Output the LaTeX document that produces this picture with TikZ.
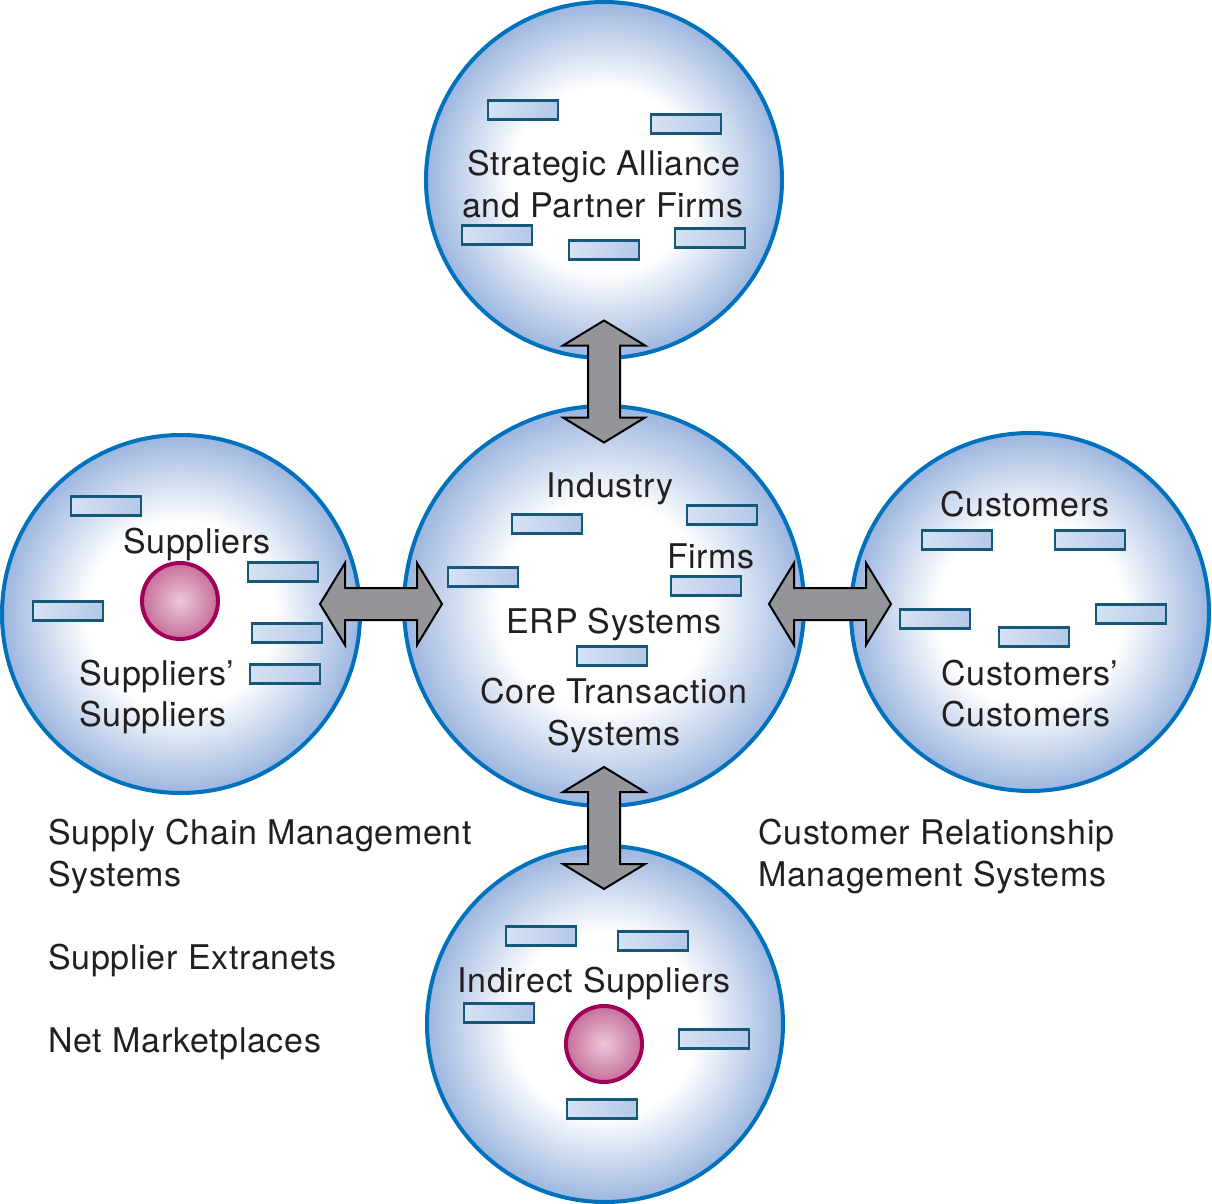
\documentclass[tikz,border=0pt]{standalone}
\usepackage{fontspec}
\setmainfont{TeX Gyre Heros}[LetterSpace=2]
\definecolor{ringblue}{RGB}{0,113,188}
\definecolor{edgeblue}{RGB}{140,170,218}
\definecolor{boxedge}{RGB}{22,88,120}
\definecolor{boxlight}{RGB}{214,226,244}
\definecolor{boxdark}{RGB}{180,200,232}
\definecolor{pinkedge}{RGB}{160,0,90}
\definecolor{pinkin}{RGB}{236,200,218}
\definecolor{pinkout}{RGB}{196,104,150}
\definecolor{arrgray}{RGB}{147,149,152}
\definecolor{txt}{RGB}{35,31,32}
\pgfdeclareradialshading{ballblue}{\pgfpoint{0bp}{0bp}}{color(0bp)=(white); color(13bp)=(white); color(27bp)=(edgeblue); color(100bp)=(edgeblue)}
\pgfdeclareradialshading{ballpink}{\pgfpoint{0bp}{0bp}}{color(0bp)=(pinkin); color(27bp)=(pinkout); color(100bp)=(pinkout)}
\begin{document}
\begin{tikzpicture}[x=0.5pt,y=-0.5pt,
  bigc/.style={circle, draw=ringblue, line width=2pt, shade, shading=ballblue, minimum size=#1, inner sep=0},
  sbox/.style={rectangle, draw=boxedge, line width=1.1pt, left color=boxlight, right color=boxdark, minimum width=35pt, minimum height=9.5pt, inner sep=0},
  pinkc/.style={circle, draw=pinkedge, line width=2pt, shade, shading=ballpink, minimum size=38pt, inner sep=0},
  lbl/.style={text=txt, font=\fontsize{17}{20}\selectfont, inner sep=0},
  dblarr/.pic={\draw[fill=arrgray, draw=black, line width=1pt, line join=miter]
     (-61,0) -- (-36,-41) -- (-36,-16) -- (36,-16) -- (36,-41) -- (61,0) -- (36,41) -- (36,16) -- (-36,16) -- (-36,41) -- cycle;}
]
\useasboundingbox (0,0) rectangle (1212,1204);
% circles
\node[bigc=178pt] (top) at (604,180) {};
\node[bigc=200pt] (mid) at (604,606) {};
\node[bigc=179pt] (left) at (181,614) {};
\node[bigc=179pt] (right) at (1030,612) {};
\node[bigc=178pt] (bot) at (605,1024) {};
% boxes top
\node[sbox] (t1) at (523,110) {};
\node[sbox] (t2) at (686,124) {};
\node[sbox] (t3) at (497,235) {};
\node[sbox] (t4) at (604,250) {};
\node[sbox] (t5) at (710,238) {};
% boxes middle
\node[sbox] (m1) at (547,524) {};
\node[sbox] (m2) at (722,515) {};
\node[sbox] (m3) at (483,577) {};
\node[sbox] (m4) at (706,586) {};
\node[sbox] (m5) at (612,656) {};
% boxes left
\node[sbox] (l1) at (106,506) {};
\node[sbox] (l2) at (283,572) {};
\node[sbox] (l3) at (68,611) {};
\node[sbox] (l4) at (287,633) {};
\node[sbox] (l5) at (285,674) {};
% boxes right
\node[sbox] (r1) at (957,540) {};
\node[sbox] (r2) at (1090,540) {};
\node[sbox] (r3) at (935,619) {};
\node[sbox] (r4) at (1034,637) {};
\node[sbox] (r5) at (1131,614) {};
% boxes bottom
\node[sbox] (b1) at (541,936) {};
\node[sbox] (b2) at (653,941) {};
\node[sbox] (b3) at (499,1013) {};
\node[sbox] (b4) at (714,1039) {};
\node[sbox] (b5) at (602,1109) {};
% pink circles
\node[pinkc] (pl) at (180,601) {};
\node[pinkc] (pb) at (604,1044) {};
% labels
\node[lbl, anchor=base] (tt1) at (604,176) {Strategic Alliance};
\node[lbl, anchor=base] (tt2) at (603,218) {and Partner Firms};
\node[lbl, anchor=base] (mt1) at (610,497) {Industry};
\node[lbl, anchor=base] (mt2) at (711,568) {Firms};
\node[lbl, anchor=base] (mt3) at (614,633) {ERP Systems};
\node[lbl, anchor=base] (mt4) at (614,703) {Core Transaction};
\node[lbl, anchor=base] (mt5) at (614,745) {Systems};
\node[lbl, anchor=base] (lt1) at (197,553) {Suppliers};
\node[lbl, anchor=base west] (lt2) at (79,685) {Suppliers’};
\node[lbl, anchor=base west] (lt3) at (79,726) {Suppliers};
\node[lbl, anchor=base] (rt1) at (1025,516) {Customers};
\node[lbl, anchor=base west] (rt2) at (941,685) {Customers’};
\node[lbl, anchor=base west] (rt3) at (941,726) {Customers};
\node[lbl, anchor=base] (bt1) at (594,992) {Indirect Suppliers};
\node[lbl, anchor=base west] (s1) at (48,844) {Supply Chain Management};
\node[lbl, anchor=base west] (s2) at (48,886) {Systems};
\node[lbl, anchor=base west] (s3) at (48,969) {Supplier Extranets};
\node[lbl, anchor=base west] (s4) at (48,1052) {Net Marketplaces};
\node[lbl, anchor=base west] (c1) at (758,844) {Customer Relationship};
\node[lbl, anchor=base west] (c2) at (758,886) {Management Systems};
% arrows
\pic (aleft) at (381,604) {dblarr};
\pic (aright) at (830,604) {dblarr};
\pic[rotate=90] (atop) at (604,381.5) {dblarr};
\pic[rotate=90] (abot) at (604,828) {dblarr};
\end{tikzpicture}
\end{document}
